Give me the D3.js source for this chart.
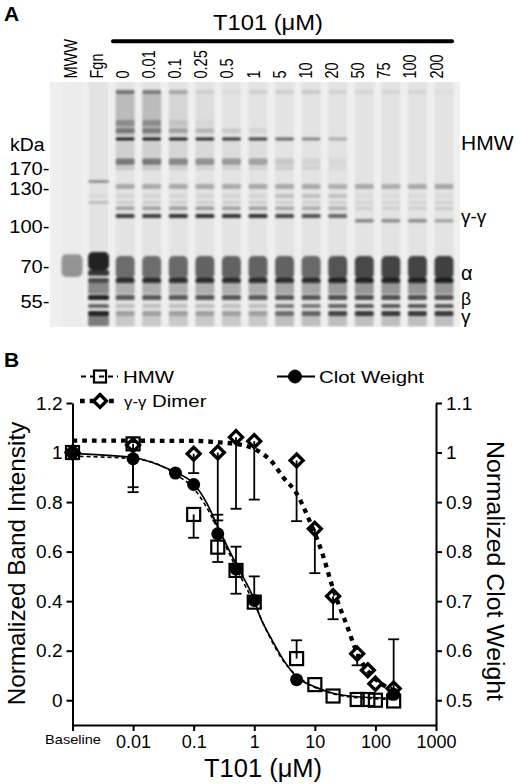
<!DOCTYPE html>
<meta charset="utf-8" />
<script src="https://d3js.org/d3.v7.min.js"></script>
<body style="margin:0;background:#fff">
<svg id="fig" width="520" height="784" style="display:block"></svg>
<script>
/* ═══ DATA ════════════════════════════════════════════════════════════ */
/* panel A : gel */
const laneNames=["MWW","Fgn","0","0.01","0.1","0.25","0.5","1","5","10","20","50","75","100","200"];
const markerKDa=[170,130,100,70,55];
const chainNames=["HMW","γ-γ","α","β","γ"];
const chainKDa=[215,102.4,63.5,53.5,47.3];           // label baselines (apparent kDa)
// band span in apparent kDa (high -> low) and density per lane (0..1)
const bandHiKDa=[484,459,324,290,256,241,194,175,144.7,137.2,124.7,118.8,114.4,108.6,105,77.7,79.3,76.5,64.4,68.1,62.3,57.3,53.9,51.3,49.6];
const bandLoKDa=[459,261,298,272,246,197,177,165.5,139,129.1,121.3,116.4,111.7,105.7,102.4,64.9,68,64,62.3,65.4,57.7,55.4,52.4,49.6,46.3];
const bandDensity=[
  [0,0,.55,.5,.3,.1,.04,.1,.1,.13,.08,.07,.07,.07,.03],
  [0,0,.2,.2,.07,.03,0,0,0,0,0,0,0,0,0],
  [0,0,.28,.28,.1,.04,0,0,0,0,0,0,0,0,0],
  [0,0,.42,.4,.28,.2,.13,.07,0,0,0,0,0,0,0],
  [0,0,1,1,.95,.9,.85,.8,.6,.45,.28,0,0,0,0],
  [0,0,.1,.1,.07,.05,.04,.03,0,0,0,0,0,0,0],
  [0,0,.52,.52,.45,.4,.36,.32,.13,.07,.05,0,0,0,0],
  [0,0,.14,.14,.11,.09,.09,.09,.11,.09,.05,0,0,0,0],
  [0,.38,0,0,0,0,0,0,0,0,0,0,0,0,0],
  [0,0,.28,.28,.28,.28,.28,.28,.28,.28,.26,.28,.26,.28,.3],
  [0,.05,.07,.07,.07,.07,.07,.07,.18,.18,.16,.05,.05,.05,.05],
  [0,.18,.11,.11,.11,.11,.11,.11,.11,.11,.11,.07,.07,.07,.09],
  [0,0,.33,.33,.36,.36,.33,.33,.3,.28,.26,.09,.09,.09,.11],
  [0,0,.8,.8,.85,.85,.85,.85,.75,.7,.6,0,0,0,0],
  [0,0,0,0,0,0,0,0,0,0,0,.45,.42,.42,.3],
  [.42,0,0,0,0,0,0,0,0,0,0,0,0,0,0],
  [0,.95,0,0,0,0,0,0,0,0,0,0,0,0,0],
  [0,0,.58,.58,.6,.63,.63,.63,.63,.6,.7,.76,.78,.78,.8],
  [0,.75,.88,.88,.88,.88,.88,.88,.88,.88,.93,.93,.93,.93,.96],
  [0,.85,0,0,0,0,0,0,0,0,0,0,0,0,0],
  [0,.45,.26,.26,.26,.26,.26,.26,.3,.3,.36,.38,.38,.38,.38],
  [0,.95,.68,.68,.68,.7,.7,.68,.7,.7,.73,.73,.73,.73,.73],
  [0,.6,.18,.18,.18,.18,.18,.18,.52,.52,.62,.68,.68,.68,.68],
  [0,.95,.33,.33,.33,.33,.33,.33,.58,.63,.78,.83,.83,.83,.83],
  [0,.5,.13,.13,.13,.13,.13,.13,.18,.18,.18,.18,.18,.18,.18]
];
const laneBackground=[.015,.05,.05,.05,.05,.05,.05,.05,.05,.05,.05,.05,.05,.05,.05];

/* panel B : dose response */
const tickConc=[0.001,0.01,0.1,1,10,100,1000];
const tickLabels=["Baseline","0.01","0.1","1","10","100","1000"];
const bandConc=[0.001,0.01,0.1,0.25,0.5,1,5,10,20,50,75,100,200];  // 0.001 = baseline
const hmw  =[1.0,1.035,0.75,0.618,0.524,0.396,0.168,0.063,0.017,0.003,0.003,0.0,-0.003];
const dimer=[1.0,1.03,0.995,1.0,1.062,1.046,0.968,0.692,0.42,0.188,0.121,0.067,0.047];
const clotConc=[0.001,0.01,0.05,0.1,0.25,0.5,1,5,200];
const clot =[1.0,0.9875,0.9585,0.9355,0.836,0.765,0.7015,0.5415,0.512];  // right axis
// error bar ends [conc, end value]
const hmwErr  =[[0.01,0.84],[0.1,0.656],[0.25,0.558],[0.25,0.749],[0.5,0.43],[0.5,0.62],[1,0.5],[5,0.242]];
const dimerErr=[[0.1,0.917],[0.25,0.726],[0.5,0.773],[1,0.81],[5,0.723],[10,0.513],[20,0.327],[50,0.141],[200,0.246]];
const clotErr =[[0.01,0.93]];
// fitted curves
const hmwFit  =[[0.001,0.985],[0.01,0.975],[0.03,0.945],[0.05,0.912],[0.1,0.855],[0.19,0.75],[0.25,0.69],[0.5,0.535],[1,0.39],[1.84,0.25],[3.05,0.158],[5,0.1],[10,0.052],[20,0.026],[50,0.01],[200,0.003]];
const dimerFit=[[0.001,1.048],[0.1,1.047],[0.3,1.04],[0.5,1.035],[1,1.015],[2,0.96],[3,0.9],[5,0.835],[8,0.73],[13,0.6],[20,0.45],[34,0.3],[50,0.19],[80,0.11],[120,0.07],[200,0.04]];
const clotFit =[[0.001,0.998],[0.01,0.99],[0.028,0.974],[0.05,0.96],[0.1,0.937],[0.166,0.897],[0.25,0.85],[0.5,0.775],[1,0.702],[1.25,0.668],[1.84,0.628],[3.05,0.581],[5,0.547],[10,0.527],[20,0.514],[50,0.507],[200,0.504]];

/* ═══ SETUP ═══════════════════════════════════════════════════════════ */
const svg=d3.select("#fig")
  .attr("font-family","'Liberation Sans',Arial,Helvetica,sans-serif");

function label(parent,x,y,str,o={}){
  const g=parent.append("g")
    .attr("transform",`translate(${x},${y}) scale(${o.sx||1},1)`+(o.rot?` rotate(${o.rot})`:""));
  return g.append("text")
    .attr("text-anchor",o.anchor||"start")
    .attr("font-size",o.size||16)
    .attr("font-weight",o.bold?"bold":null)
    .attr("dy",o.dy||null)
    .text(str);
}

/* ═══ PANEL A ═════════════════════════════════════════════════════════ */
const gel={left:50,right:460,top:82,bottom:327};
const laneX =d3.scalePoint().domain(laneNames).range([72,444]);
const labelX=d3.scalePoint().domain(laneNames).range([70,436]);
const gy=d3.scaleLog().domain(markerKDa).range([168,188,226,266,301]);
const laneW=19;

svg.append("defs").append("filter").attr("id","blur")
   .attr("x","-20%").attr("y","-20%").attr("width","140%").attr("height","140%")
   .append("feGaussianBlur").attr("stdDeviation","1.1 1");

label(svg,4,20.5,"A",{size:21,bold:true});
label(svg,268,29.5,"T101 (μM)",{size:22,anchor:"middle",sx:1.08});
svg.append("line").attr("x1",113).attr("x2",452).attr("y1",41.3).attr("y2",41.3)
   .attr("stroke","#000").attr("stroke-width",4).attr("stroke-linecap","round");

laneNames.forEach(n=>label(svg,labelX(n),78.5,n,{size:14.5,rot:-90,sx:1.25,dy:"0.36em"}));

svg.append("rect").attr("x",gel.left).attr("y",gel.top)
   .attr("width",gel.right-gel.left).attr("height",gel.bottom-gel.top).attr("fill","#efefef");

const gg=svg.append("g").attr("filter","url(#blur)");
gg.selectAll("rect.lane").data(laneNames).join("rect").attr("class","lane")
  .attr("x",n=>laneX(n)-laneW/2).attr("width",laneW)
  .attr("y",gel.top).attr("height",gel.bottom-gel.top)
  .attr("fill","#000").attr("fill-opacity",(n,i)=>laneBackground[i]);

const cells=[];
bandDensity.forEach((row,b)=>row.forEach((d,i)=>{ if(d>0) cells.push({b,i,d}); }));
gg.selectAll("rect.band").data(cells).join("rect").attr("class","band")
  .attr("x",c=>laneX(laneNames[c.i])-laneW/2-(c.i<2?1:0)).attr("width",c=>laneW+(c.i<2?2:0))
  .attr("y",c=>gy(bandHiKDa[c.b])).attr("height",c=>gy(bandLoKDa[c.b])-gy(bandHiKDa[c.b]))
  .attr("rx",c=>c.b===15||c.b===16||c.b===17?5:1.5)
  .attr("fill","#000").attr("fill-opacity",c=>c.d*0.9);

label(svg,10,151,"kDa",{size:18,sx:1.08});
markerKDa.forEach(k=>label(svg,49.5,gy(k),k+"-",{size:19,anchor:"end",dy:"0.35em",sx:1.06}));
chainNames.forEach((c,i)=>label(svg,461,gy(chainKDa[i]),c,{size:[21,19,20,17.5,19][i]}));

/* ═══ PANEL B ═════════════════════════════════════════════════════════ */
const x =d3.scaleLog().domain([0.001,1000]).range([72.5,436]);
const yL=d3.scaleLinear().domain([-0.1,1.2]).range([725,403]);
const yR=d3.scaleLinear().domain([0.45,1.1]).range([725,403]);

label(svg,4,366.5,"B",{size:21,bold:true});

function styleAxis(g,size){
  g.attr("font-family",null).attr("font-size",size);
  g.select(".domain").attr("stroke-width",2);
  g.selectAll(".tick line").attr("stroke-width",2);
  g.selectAll(".tick text").attr("fill","#000");
}
const gx=svg.append("g").attr("transform","translate(0,725)")
  .call(d3.axisBottom(x).tickValues(tickConc).tickFormat((d,i)=>tickLabels[i])
        .tickSize(6).tickSizeOuter(0).tickPadding(4))
  .call(g=>styleAxis(g,18));
gx.selectAll(".tick text").filter((d,i)=>i===0)
  .attr("font-size",13).attr("transform","scale(1.12,1)");

svg.append("g").attr("transform","translate(72.5,0)")
  .call(d3.axisLeft(yL).tickValues([0,0.2,0.4,0.6,0.8,1,1.2]).tickFormat(d3.format("~g"))
        .tickSize(6).tickSizeOuter(0).tickPadding(4))
  .call(g=>styleAxis(g,19));
svg.append("g").attr("transform","translate(436,0)")
  .call(d3.axisRight(yR).tickValues([0.5,0.6,0.7,0.8,0.9,1,1.1]).tickFormat(d3.format("~g"))
        .tickSize(6).tickSizeOuter(0).tickPadding(4))
  .call(g=>styleAxis(g,19));

label(svg,25,563.5,"Normalized Band Intensity",{size:24.3,anchor:"middle",rot:-90});
label(svg,487,571,"Normalized Clot Weight",{size:24.8,anchor:"middle",rot:90});
label(svg,263,776.5,"T101 (μM)",{size:25.5,anchor:"middle"});

/* fitted curves */
const lineL=d3.line().x(d=>x(d[0])).y(d=>yL(d[1])).curve(d3.curveMonotoneX);
const lineR=d3.line().x(d=>x(d[0])).y(d=>yR(d[1])).curve(d3.curveMonotoneX);
const plot=svg.append("g").attr("fill","none").attr("stroke","#000");
plot.append("path").attr("d",lineL(dimerFit)).attr("stroke-width",4.3).attr("stroke-dasharray","4.7,5");
plot.append("path").attr("d",lineL(hmwFit)).attr("stroke-width",1.6).attr("stroke-dasharray","4,3");
plot.append("path").attr("d",lineR(clotFit)).attr("stroke-width",1.7);

/* error bars */
function errBars(list,vals,concs,ys){
  const eg=plot.append("g").attr("stroke-width",1.8);
  list.forEach(([c,e])=>{
    const v=vals[concs.indexOf(c)];
    eg.append("line").attr("x1",x(c)).attr("x2",x(c)).attr("y1",ys(v)).attr("y2",ys(e));
    eg.append("line").attr("x1",x(c)-5.5).attr("x2",x(c)+5.5).attr("y1",ys(e)).attr("y2",ys(e));
  });
}
errBars(hmwErr,hmw,bandConc,yL);
errBars(dimerErr,dimer,bandConc,yL);
errBars(clotErr,clot,clotConc,yR);

/* markers */
const diamondType={draw(ctx,size){const r=Math.sqrt(size/2);
  ctx.moveTo(0,-r);ctx.lineTo(r,0);ctx.lineTo(0,r);ctx.lineTo(-r,0);ctx.closePath();}};
const diamond=d3.symbol().type(diamondType).size(2*6.5*6.5);
const sq=6.5, cr=6.5;

plot.append("g").selectAll("circle").data(clotConc).join("circle")
  .attr("cx",c=>x(c)).attr("cy",(c,i)=>yR(clot[i])).attr("r",cr)
  .attr("fill","#000").attr("stroke","none");
plot.append("g").selectAll("rect").data(bandConc).join("rect")
  .attr("x",c=>x(c)-sq).attr("y",(c,i)=>yL(hmw[i])-sq).attr("width",2*sq).attr("height",2*sq)
  .attr("stroke-width",2.2);
plot.append("g").selectAll("path").data(bandConc).join("path")
  .attr("transform",(c,i)=>`translate(${x(c)},${yL(dimer[i])})`).attr("d",diamond)
  .attr("stroke-width",3.3);

/* legend */
const lg=svg.append("g").attr("fill","none").attr("stroke","#000");
lg.append("line").attr("x1",81).attr("x2",118).attr("y1",376.5).attr("y2",376.5)
  .attr("stroke-width",1.8).attr("stroke-dasharray","5,4");
lg.append("rect").attr("x",100-sq+0.5).attr("y",376.5-sq+0.5).attr("width",2*sq-1).attr("height",2*sq-1).attr("stroke-width",2.2);
lg.append("line").attr("x1",80).attr("x2",118).attr("y1",401).attr("y2",401)
  .attr("stroke-width",4.3).attr("stroke-dasharray","4.7,5");
lg.append("path").attr("transform","translate(100,401)").attr("d",diamond).attr("stroke-width",3.3).attr("fill","#fff");
lg.append("line").attr("x1",277).attr("x2",315).attr("y1",376.5).attr("y2",376.5).attr("stroke-width",1.8);
lg.append("circle").attr("cx",295).attr("cy",376.5).attr("r",cr).attr("fill","#000");

label(svg,123,382.5,"HMW",{size:17,sx:1.2});
label(svg,319,382.5,"Clot Weight",{size:17,sx:1.2});
const dt=label(svg,124,406.5,"",{size:14,sx:1.2});
dt.append("tspan").text("γ-γ");
dt.append("tspan").attr("font-size",17).text(" Dimer");
</script>
</body>
